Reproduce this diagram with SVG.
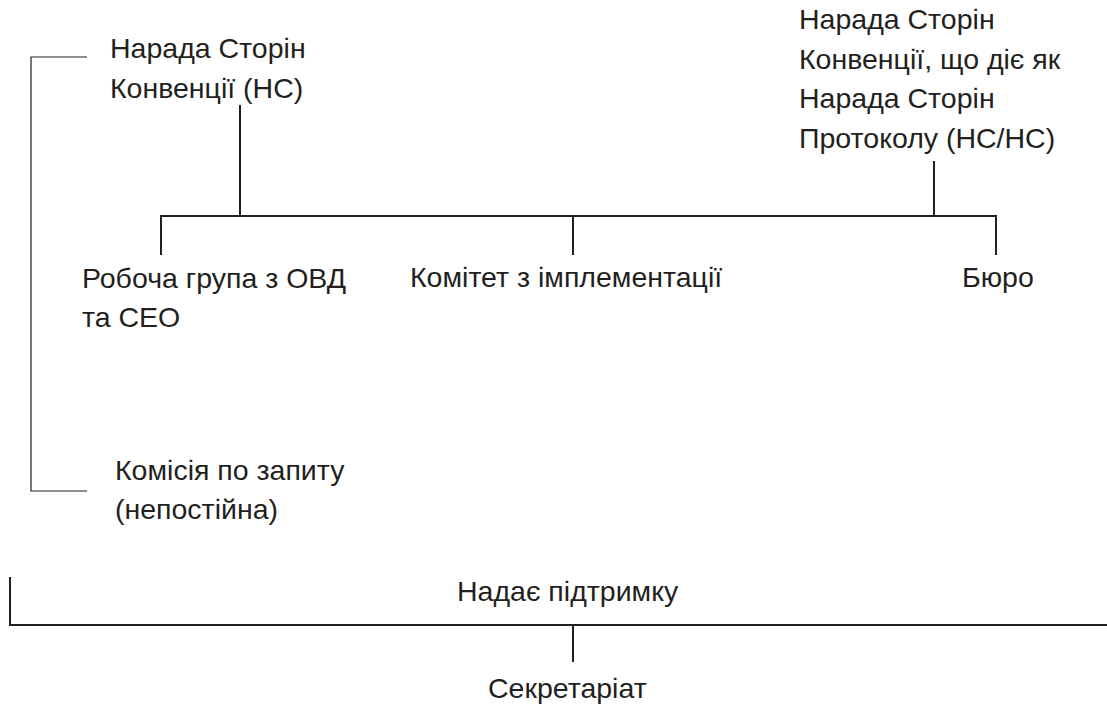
<svg xmlns="http://www.w3.org/2000/svg" width="1107" height="711" viewBox="0 0 1107 711">
<style>
text{font-family:"Liberation Sans","DejaVu Sans",sans-serif;font-size:28.5px;fill:#231f20}
.l{stroke:#231f20;stroke-width:2;fill:none}
.t{stroke:#231f20;stroke-width:1.2;fill:none}
</style>
<rect width="1107" height="711" fill="#fff"/>
<g id="connectors">
<path class="t" d="M87 57H31V491H87"/>
<path class="l" d="M240 105V216"/>
<path class="l" d="M161 255V216H996V255"/>
<path class="l" d="M934 161V216"/>
<path class="l" d="M573 216V255"/>
<path class="l" d="M10 577V625H1107"/>
<path class="l" d="M573 625V662"/>
</g>
<g id="nc"><text x="110" y="58">Нарада Сторін</text><text x="110" y="98">Конвенції (НС)</text></g>
<g id="ncnc"><text x="799" y="29">Нарада Сторін</text><text x="799" y="69">Конвенції, що діє як</text><text x="799" y="108">Нарада Сторін</text><text x="799" y="148">Протоколу (НС/НС)</text></g>
<g id="wg"><text x="82" y="288">Робоча група з ОВД</text><text x="82" y="327">та СЕО</text></g>
<g id="ic"><text x="410" y="287">Комітет з імплементації</text></g>
<g id="bureau"><text x="962" y="287">Бюро</text></g>
<g id="inquiry"><text x="115" y="480">Комісія по запиту</text><text x="115" y="519">(непостійна)</text></g>
<g id="support"><text x="457" y="601">Надає підтримку</text></g>
<g id="secretariat"><text x="488" y="698">Секретаріат</text></g>
</svg>
